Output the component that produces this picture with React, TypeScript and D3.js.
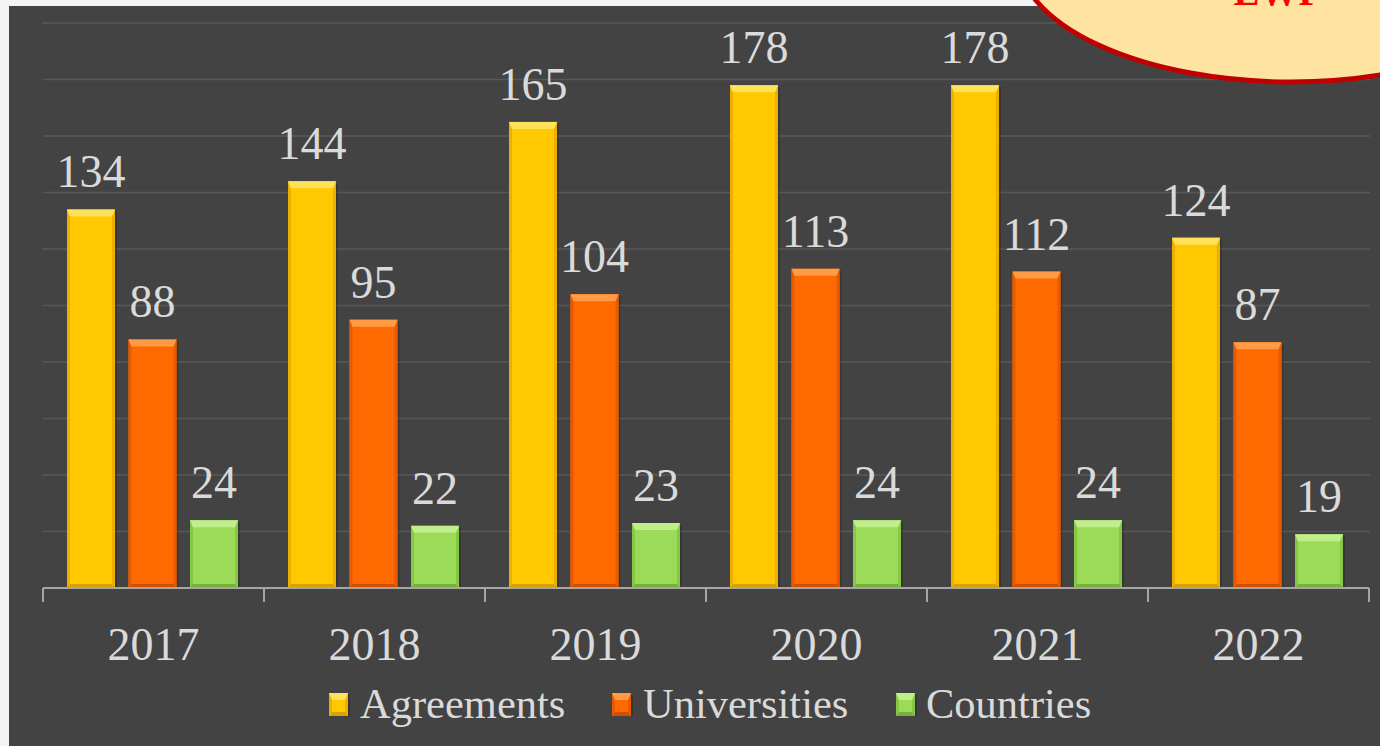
import React from "react";
import * as d3 from "d3";

const years = ["2017", "2018", "2019", "2020", "2021", "2022"];
const seriesNames = ["Agreements", "Universities", "Countries"];
const agreements = [134, 144, 165, 178, 178, 124];
const universities = [88, 95, 104, 113, 112, 87];
const countries = [24, 22, 23, 24, 24, 19];
const yTicks = [0, 20, 40, 60, 80, 100, 120, 140, 160, 180, 200];

const palette = [
  { base: "#FFC800", top: "#FFE25A", side: "#EBB000", bottom: "#D9A200" },
  { base: "#FF6A00", top: "#FF9A45", side: "#E85A00", bottom: "#D24E00" },
  { base: "#9CDB58", top: "#C0EE8A", side: "#86C846", bottom: "#76B23A" },
];

const W = 1380;
const H = 746;

function Bar({ x, y, w, h, c }: { x: number; y: number; w: number; h: number; c: any }) {
  const bt = Math.min(7, h / 2);
  const bs = 3;
  const bb = Math.min(4, h / 2);
  const p = (pts: number[][]) => pts.map((q) => q.join(",")).join(" ");
  return (
    <g>
      <rect x={x + 2} y={y + 2} width={w} height={h - 2} fill="#000" opacity={0.18} />
      <rect x={x} y={y} width={w} height={h} fill={c.base} />
      <polygon points={p([[x, y], [x + bs, y + bt], [x + bs, y + h - bb], [x, y + h]])} fill={c.side} />
      <polygon points={p([[x + w, y], [x + w - bs, y + bt], [x + w - bs, y + h - bb], [x + w, y + h]])} fill={c.side} />
      <polygon points={p([[x, y + h], [x + w, y + h], [x + w - bs, y + h - bb], [x + bs, y + h - bb]])} fill={c.bottom} />
      <polygon points={p([[x, y], [x + w, y], [x + w - bs, y + bt], [x + bs, y + bt]])} fill={c.top} />
    </g>
  );
}

export default function App() {
  const values = [agreements, universities, countries];
  const x0 = d3.scaleBand<string>().domain(years).range([43, 1369]).padding(0);
  const x1 = d3
    .scaleBand<string>()
    .domain(seriesNames)
    .range([24, x0.bandwidth() - 26])
    .paddingInner(0.22)
    .paddingOuter(0);
  const y = d3.scaleLinear().domain([0, 200]).range([588, 23]);
  const serif = "'Liberation Serif', 'Times New Roman', serif";
  const boundaries = years.map((yr) => x0(yr) as number).concat([(x0(years[years.length - 1]) as number) + x0.bandwidth()]);

  const legendItems = [
    { name: seriesNames[0], mx: 329, tx: 360 },
    { name: seriesNames[1], mx: 612, tx: 643 },
    { name: seriesNames[2], mx: 896, tx: 926 },
  ];

  return (
    <svg width={W} height={H} style={{ position: "absolute", left: 0, top: 0, display: "block" }}>
      <rect x={0} y={0} width={W} height={H} fill="#F4F4F4" />
      <rect x={9} y={6} width={W - 9} height={H - 6} fill="#434343" />
      {yTicks.slice(1).map((t) => (
        <line key={t} x1={43} x2={1370} y1={y(t)} y2={y(t)} stroke="#585858" strokeWidth={1.5} />
      ))}
      {years.map((yr, i) => (
        <g key={yr}>
          {values.map((vals, s) => {
            const bx = (x0(yr) as number) + (x1(seriesNames[s]) as number);
            const by = y(vals[i]);
            return <Bar key={s} x={bx} y={by} w={x1.bandwidth()} h={y(0) - by} c={palette[s]} />;
          })}
          {values.map((vals, s) => {
            const bx = (x0(yr) as number) + (x1(seriesNames[s]) as number) + x1.bandwidth() / 2;
            return (
              <text
                key={"l" + s}
                x={bx}
                y={y(vals[i]) - 22}
                textAnchor="middle"
                fontFamily={serif}
                fontSize={46}
                fill="#DADADA"
              >
                {vals[i]}
              </text>
            );
          })}
          <text
            x={(x0(yr) as number) + x0.bandwidth() / 2}
            y={660}
            textAnchor="middle"
            fontFamily={serif}
            fontSize={46}
            fill="#DADADA"
          >
            {yr}
          </text>
        </g>
      ))}
      <line x1={43} x2={1369} y1={588} y2={588} stroke="#A6A6A6" strokeWidth={2} />
      {boundaries.map((bx, i) => (
        <line key={i} x1={bx} x2={bx} y1={588} y2={602} stroke="#A6A6A6" strokeWidth={2} />
      ))}
      {legendItems.map((it, s) => (
        <g key={it.name}>
          <Bar x={it.mx} y={693} w={19} h={23} c={palette[s]} />
          <text x={it.tx} y={718} fontFamily={serif} fontSize={42.5} fill="#DADADA">
            {it.name}
          </text>
        </g>
      ))}
      <ellipse cx={1291} cy={-45} rx={273} ry={127} fill="#FFE3A0" stroke="#C00000" strokeWidth={5} />
      <text x={1278} y={5} textAnchor="middle" fontFamily={serif} fontWeight="bold" fontSize={39} fill="#FF0000">
        EWP
      </text>
    </svg>
  );
}
